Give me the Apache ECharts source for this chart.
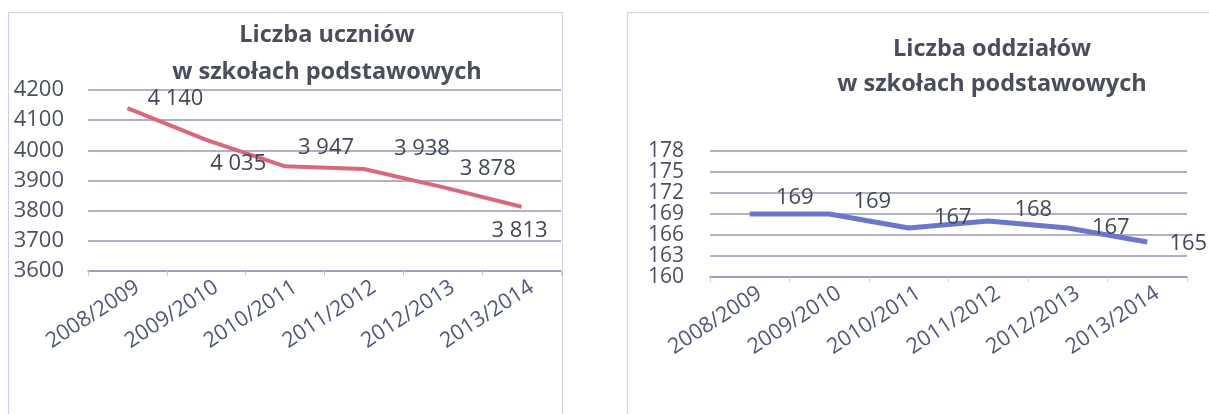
<!DOCTYPE html>
<html>
<head>
<meta charset="UTF-8">
<script src="https://cdn.jsdelivr.net/npm/echarts@6.0.0/dist/echarts.min.js"></script>
<style>
html, body { margin: 0; padding: 0; background: #fff; }
#main { width: 1209px; height: 414px; }
</style>
</head>
<body>
<div id="main"></div>
<script>
// dane
var years = ['2008/2009', '2009/2010', '2010/2011', '2011/2012', '2012/2013', '2013/2014'];
var uczniowie = [4140, 4035, 3947, 3938, 3878, 3813];
var oddzialy = [169, 169, 167, 168, 167, 165];
var oddzialyBase = 160; // os oddzialow zaczyna sie od 160, co 3

// przesuniecia etykiet danych (jak w oryginale)
var offUczniowie = [[48, -9], [32, 24], [41, -19], [58, -20], [45, -18], [-2, 24]];
var offOddzialy = [[45, -16], [43, -12], [44, -10], [45, -11], [43, 0], [41, 2]];

var textColor = '#4b5061';
var gridColor = '#9599b3';
var font = '"Open Sans", "Noto Sans", sans-serif';

function fmt(v) {
    return String(v).replace(/\B(?=(\d{3})+(?!\d))/g, ' ');
}

function layoutFrom(offsets) {
    return function (p) {
        var o = offsets[p.dataIndex];
        return { dx: o[0], dy: o[1], hideOverlap: false };
    };
}

var dataO = oddzialy.map(function (v) { return v - oddzialyBase; });

function catAxis(idx) {
    return {
        type: 'category',
        gridIndex: idx,
        data: years,
        boundaryGap: true,
        axisLine: { show: true, lineStyle: { color: gridColor, width: 1.5 } },
        axisTick: { show: true, length: 5, lineStyle: { color: '#c9cbdb' } },
        axisLabel: {
            rotate: 33,
            margin: 21,
            padding: [0, -12, 0, 0],
            color: '#4f587a',
            fontFamily: font,
            fontSize: 21.5
        }
    };
}

var chart = echarts.init(document.getElementById('main'));
chart.setOption({
    animation: false,
    backgroundColor: '#fff',
    graphic: [
        { type: 'rect', shape: { x: 8.5, y: 12.5, width: 554, height: 420 },
          style: { fill: 'none', stroke: '#cdd0e3', lineWidth: 1 } },
        { type: 'rect', shape: { x: 627.5, y: 12.5, width: 600, height: 420 },
          style: { fill: 'none', stroke: '#cdd0e3', lineWidth: 1 } }
    ],
    title: [
        {
            text: 'Liczba uczniów\nw szkołach podstawowych',
            left: 322, top: 12, textAlign: 'center',
            textStyle: { color: '#4a4e5c', fontFamily: font, fontSize: 23.5, fontWeight: 'bold', lineHeight: 37 }
        },
        {
            text: 'Liczba oddziałów\nw szkołach podstawowych',
            left: 987, top: 27, textAlign: 'center',
            textStyle: { color: '#4a4e5c', fontFamily: font, fontSize: 23.5, fontWeight: 'bold', lineHeight: 35 }
        }
    ],
    grid: [
        { left: 88, top: 90, width: 473, height: 181 },
        { left: 710, top: 151, width: 477, height: 126 }
    ],
    xAxis: [catAxis(0), catAxis(1)],
    yAxis: [
        {
            type: 'value', gridIndex: 0,
            min: 3600, max: 4200, interval: 100,
            axisLine: { show: false }, axisTick: { show: false },
            axisLabel: {
                margin: 24, color: textColor, fontFamily: font, fontSize: 22,
                formatter: function (v) { return String(v); }
            },
            splitLine: { lineStyle: { color: gridColor, width: 1.5 } }
        },
        {
            type: 'value', gridIndex: 1,
            min: 0, max: 18, interval: 3,
            axisLine: { show: false }, axisTick: { show: false },
            axisLabel: {
                margin: 26, color: textColor, fontFamily: font, fontSize: 21, lineHeight: 21,
                formatter: function (v) { return String(v + oddzialyBase); }
            },
            splitLine: { lineStyle: { color: gridColor, width: 1.5 } }
        }
    ],
    series: [
        {
            type: 'line', xAxisIndex: 0, yAxisIndex: 0,
            data: uczniowie,
            symbol: 'circle', symbolSize: 2, showSymbol: true,
            itemStyle: { color: 'rgba(0,0,0,0)' },
            lineStyle: { color: '#d9687d', width: 4 },
            labelLayout: layoutFrom(offUczniowie),
            label: {
                show: true, position: 'inside',
                color: '#434857', fontFamily: font, fontSize: 22,
                formatter: function (p) { return fmt(p.value); }
            }
        },
        {
            type: 'line', xAxisIndex: 1, yAxisIndex: 1,
            data: dataO,
            symbol: 'circle', symbolSize: 2, showSymbol: true,
            itemStyle: { color: 'rgba(0,0,0,0)' },
            lineStyle: { color: '#6c76cc', width: 5 },
            labelLayout: layoutFrom(offOddzialy),
            label: {
                show: true, position: 'inside',
                color: '#434857', fontFamily: font, fontSize: 22,
                formatter: function (p) { return String(oddzialy[p.dataIndex]); }
            }
        }
    ]
});
</script>
</body>
</html>
